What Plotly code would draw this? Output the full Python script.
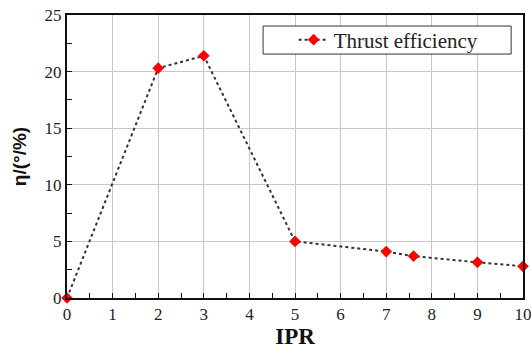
import plotly.graph_objects as go

ipr = [0, 2, 3, 5, 7, 7.6, 9, 10]
efficiency = [0, 20.3, 21.4, 5.0, 4.1, 3.7, 3.15, 2.8]
x_ticks = list(range(0, 11))
y_ticks = [0, 5, 10, 15, 20, 25]

serif = "Liberation Serif"

fig = go.Figure()
fig.add_trace(go.Scatter(
    x=ipr, y=efficiency, mode="lines+markers", name="Thrust efficiency",
    line=dict(color="#333333", width=2, dash="dot"),
    marker=dict(symbol="diamond", color="red", size=9),
))

axis_font = dict(family=serif, size=17, color="#222")
fig.update_layout(
    width=531, height=356,
    margin=dict(l=67, r=8, t=15, b=58),
    paper_bgcolor="white", plot_bgcolor="white",
    font=dict(family=serif, size=17, color="#222"),
    showlegend=True,
    legend=dict(x=0.497, y=0.984, xanchor="left", yanchor="top",
                borderwidth=0, bgcolor="rgba(0,0,0,0)",
                font=dict(family=serif, size=21, color="#222"),
                itemwidth=30, tracegroupgap=0),
    shapes=[dict(type="rect", xref="paper", yref="paper",
                 x0=0.43, x1=0.974, y0=0.862, y1=0.961,
                 line=dict(color="#333", width=1), fillcolor="white", layer="above")],
    xaxis=dict(range=[0, 10], tickvals=x_ticks, showgrid=True, gridcolor="#c8c8c8", gridwidth=1,
               showline=True, linecolor="#111", linewidth=2, mirror=True,
               ticks="inside", ticklen=5, tickcolor="#111",
               minor=dict(dtick=0.5, ticks="inside", ticklen=5, tickcolor="#111", showgrid=False),
               tickfont=axis_font, zeroline=False, automargin=False, ticklabeloverflow="allow",
               title=dict(text="<b>IPR</b>", font=dict(family=serif, size=23, color="#111"), standoff=4)),
    yaxis=dict(range=[0, 25], tickvals=y_ticks, showgrid=True, gridcolor="#c8c8c8", gridwidth=1,
               showline=True, linecolor="#111", linewidth=2, mirror=True,
               ticks="inside", ticklen=5, tickcolor="#111",
               minor=dict(dtick=2.5, ticks="inside", ticklen=5, tickcolor="#111", showgrid=False),
               tickfont=axis_font, zeroline=False, automargin=False, ticklabeloverflow="allow",
               title=dict(text="<b>η/(°/%)</b>", font=dict(family="Liberation Sans", size=19, color="#111"), standoff=13)),
)
fig.update_traces(cliponaxis=False)
fig.write_html("out.html", config={"displayModeBar": False},
               post_script="document.body.style.margin='0';")
